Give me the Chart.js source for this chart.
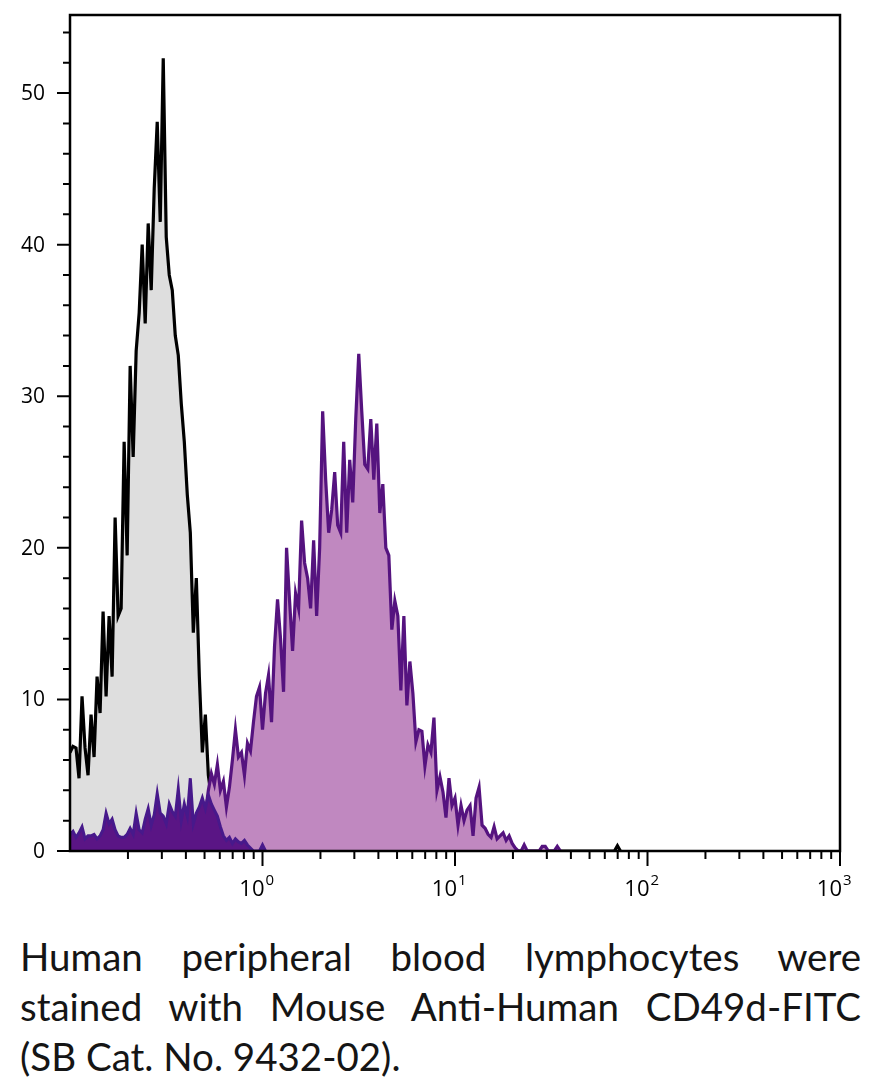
<!DOCTYPE html>
<html>
<head>
<meta charset="utf-8">
<script src="https://cdn.jsdelivr.net/npm/chart.js@4.4.1/dist/chart.umd.min.js"></script>
<style>
  html, body { margin: 0; padding: 0; background: #fff; }
  body { width: 876px; height: 1084px; position: relative; overflow: hidden; }
  #chartBox { position: absolute; left: 0; top: 0; width: 876px; height: 905px; }
  #caption { position: absolute; left: 20px; top: 931px; width: 841px;
             font-family: Lato, "Open Sans", sans-serif; font-size: 38.5px; line-height: 50px; color: #151515; }
  #caption div { text-align: justify; text-align-last: justify; white-space: nowrap; }
  #caption div.last { text-align-last: left; }
</style>
</head>
<body>
<div id="chartBox"><canvas id="histo" width="876" height="905"></canvas></div>
<div id="caption">
  <div>Human peripheral blood lymphocytes were</div>
  <div>stained with Mouse Anti-Human CD49d-FITC</div>
  <div class="last">(SB Cat. No. 9432-02).</div>
</div>
<script>
// histogram channels: 64 channels per decade, first channel at 0.1
const BINS_PER_DECADE = 64;
const X_MIN = 0.1, X_MAX = 1000;
const Y_MIN = 0, Y_MAX = 55.15;

// grey filled control histogram (channel 0 ...)
const controlCounts = [
  6.5, 6.9, 6.8, 4.8, 10.2, 6.8, 5.0, 9.0, 6.2, 11.5,
  9.1, 15.8, 10.2, 15.5, 11.5, 22.0, 15.5, 16.0, 27.0, 19.5,
  32.0, 26.0, 33.0, 35.5, 40.0, 34.8, 41.4, 37.0, 43.7, 48.1,
  41.5, 52.3, 40.5, 38.0, 37.0, 34.0, 32.7, 29.5, 27.0, 23.5,
  21.0, 14.4, 18.0, 11.5, 6.5, 9.0, 5.0, 3.5, 2.0, 1.0,
  0.4, 0
];
// isolated events far out on the control
const controlEventBins = [181, 182, 183];
const controlEventCounts = [0, 0.35, 0];

// dark purple low histogram (channel 0 ...)
const lowCounts = [
  1.1, 1.3, 0.9, 1.2, 1.6, 0.8, 1.0, 1.0, 1.1, 0.8,
  1.0, 1.4, 2.5, 1.8, 2.1, 1.4, 1.0, 0.9, 0.9, 1.1,
  1.5, 1.1, 2.5, 1.4, 1.2, 2.1, 2.8, 1.7, 2.4, 3.8,
  2.5, 2.3, 1.8, 3.1, 2.6, 2.3, 4.1, 2.0, 3.1, 2.3,
  4.8, 1.8, 2.5, 2.9, 3.5, 2.8, 3.7, 3.1, 2.7, 2.3,
  1.6, 1.0, 0.7, 0.9, 0.5, 0.8, 0.6, 0.5, 0.7, 0.4,
  0.2, 0, 0, 0, 0.4, 0
];

// light purple stained histogram, starting at channel 40
const STAINED_FIRST_BIN = 40;
const stainedCounts = [
  0.5, 0.8, 1.0, 1.2, 1.5, 2.5, 4.0, 5.1, 4.4, 5.7,          // 40-49
  4.0, 4.6, 2.9, 4.2, 6.0, 8.0, 6.2, 6.5, 5.0, 7.1,          // 50-59
  6.6, 8.5, 10.2, 10.8, 8.0, 10.4, 11.6, 8.5, 13.5, 16.6,    // 60-69
  14.0, 10.5, 20.0, 16.5, 13.2, 17.0, 16.0, 21.8, 19.0, 18.0, // 70-79
  16.0, 20.5, 15.5, 20.0, 29.0, 24.5, 21.0, 22.5, 25.0, 21.5, // 80-89
  21.0, 27.0, 21.0, 25.8, 23.0, 28.5, 32.8, 29.0, 25.5, 25.2, // 90-99
  28.5, 24.5, 28.2, 22.3, 24.2, 20.0, 19.5, 14.6, 16.5, 15.5, // 100-109
  10.6, 15.5, 9.6, 12.5, 10.4, 7.2, 8.0, 7.9, 5.6, 7.0,      // 110-119
  6.5, 8.8, 4.0, 4.9, 3.9, 2.2, 4.8, 3.0, 3.5, 1.7,          // 120-129
  3.0, 2.0, 2.7, 3.0, 1.0, 3.5, 4.2, 1.7, 1.5, 1.1,          // 130-139
  0.9, 1.6, 0.8, 1.0, 1.2, 0.7, 1.0, 0.5, 0.2, 0,            // 140-149
  0, 0.4, 0, 0, 0, 0, 0, 0.3, 0.3, 0,                        // 150-159
  0, 0, 0.3, 0                                              // 160-163
];

const yMajorTicks = [0, 10, 20, 30, 40, 50];
const yMinorTicks = [2, 4, 6, 8, 12, 14, 16, 18, 22, 24, 26, 28, 32, 34, 36, 38, 42, 44, 46, 48, 52, 54];
const xMajorTicks = [1, 10, 100, 1000];
const xMajorExponents = ['0', '1', '2', '3'];
const xMinorTicks = [0.2, 0.3, 0.4, 0.5, 0.6, 0.7, 0.8, 0.9,
                     2, 3, 4, 5, 6, 7, 8, 9,
                     20, 30, 40, 50, 60, 70, 80, 90,
                     200, 300, 400, 500, 600, 700, 800, 900];

function channelValue(bin) { return X_MIN * Math.pow(10, bin / BINS_PER_DECADE); }
function toPoints(counts, firstBin) {
  return counts.map((c, k) => ({ x: channelValue(firstBin + k), y: c }));
}

const controlPoints = toPoints(controlCounts, 0)
  .concat(controlEventBins.map((b, k) => ({ x: channelValue(b), y: controlEventCounts[k] })));

const axisFrame = {
  id: 'axisFrame',
  afterDraw(chart) {
    const { ctx, chartArea: a, scales: { x, y } } = chart;
    ctx.save();
    ctx.strokeStyle = '#000';
    ctx.fillStyle = '#000';
    ctx.lineWidth = 2.5;
    ctx.strokeRect(a.left, a.top, a.right - a.left, a.bottom - a.top);
    ctx.lineWidth = 2;
    ctx.beginPath();
    yMajorTicks.forEach(v => { const p = y.getPixelForValue(v); ctx.moveTo(a.left - 13, p); ctx.lineTo(a.left, p); });
    yMinorTicks.forEach(v => { const p = y.getPixelForValue(v); ctx.moveTo(a.left - 7, p); ctx.lineTo(a.left, p); });
    xMajorTicks.forEach(v => { const p = x.getPixelForValue(v); ctx.moveTo(p, a.bottom); ctx.lineTo(p, a.bottom + 15); });
    xMinorTicks.forEach(v => { const p = x.getPixelForValue(v); ctx.moveTo(p, a.bottom); ctx.lineTo(p, a.bottom + 8); });
    ctx.stroke();

    ctx.font = '21px "Open Sans", sans-serif';
    ctx.textAlign = 'right';
    ctx.textBaseline = 'middle';
    yMajorTicks.forEach(v => ctx.fillText(String(v), a.left - 25, y.getPixelForValue(v) + 1));

    ctx.textBaseline = 'alphabetic';
    xMajorTicks.forEach((v, k) => {
      const p = x.getPixelForValue(v);
      ctx.font = '22px "Open Sans", sans-serif';
      ctx.textAlign = 'right';
      ctx.fillText('10', p + 2, a.bottom + 45);
      ctx.font = '15px "Open Sans", sans-serif';
      ctx.textAlign = 'left';
      ctx.fillText(xMajorExponents[k], p + 3, a.bottom + 34);
    });
    ctx.restore();
  }
};

new Chart(document.getElementById('histo'), {
  type: 'line',
  data: {
    datasets: [
      {
        label: 'low',
        data: toPoints(lowCounts, 0),
        borderColor: '#47198b',
        backgroundColor: '#5a1585',
        borderWidth: 3,
        fill: 'origin',
        pointRadius: 0,
        tension: 0
      },
      {
        label: 'stained',
        data: toPoints(stainedCounts, STAINED_FIRST_BIN),
        borderColor: '#55137f',
        backgroundColor: '#c088c0',
        borderWidth: 3.2,
        fill: 'origin',
        pointRadius: 0,
        tension: 0
      },
      {
        label: 'control',
        data: controlPoints,
        borderColor: '#000',
        backgroundColor: '#dedede',
        borderWidth: 3.2,
        fill: 'origin',
        pointRadius: 0,
        tension: 0
      }
    ]
  },
  options: {
    responsive: false,
    devicePixelRatio: 1,
    animation: false,
    layout: { padding: { left: 70, right: 36, top: 15, bottom: 54 } },
    scales: {
      x: { type: 'logarithmic', min: X_MIN, max: X_MAX, display: false },
      y: { type: 'linear', min: Y_MIN, max: Y_MAX, display: false }
    },
    plugins: { legend: { display: false }, tooltip: { enabled: false } }
  },
  plugins: [axisFrame]
});
</script>
</body>
</html>
